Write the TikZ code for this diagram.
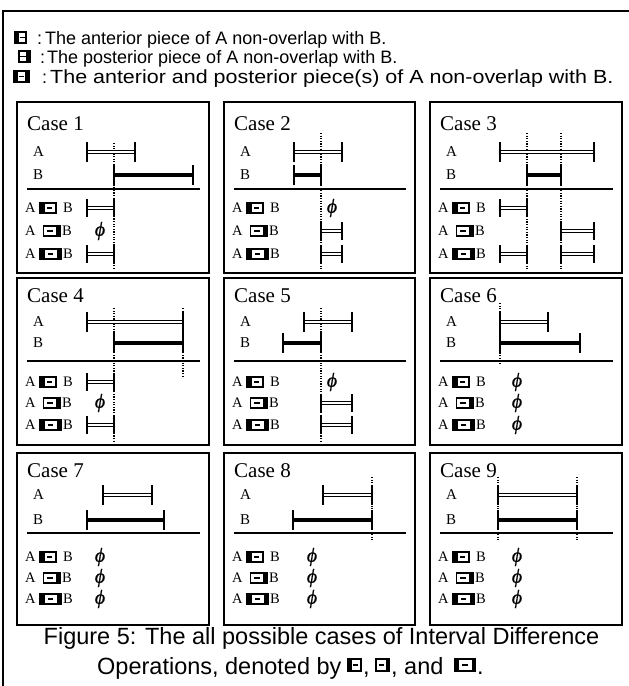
\documentclass[tikz,border=0pt]{standalone}
\usepackage{fontspec}
\setmainfont{Liberation Serif}
\newfontfamily\arialf{Liberation Sans}
\newfontfamily\arialwide[FakeStretch=1.13]{Liberation Sans}
\newfontfamily\phifont[FakeBold=0.8]{Liberation Serif}
\tikzset{
  panel/.style={draw, line width=1.8pt},
  frameline/.style={line width=1.4pt},
  sepline/.style={line width=1.4pt},
  aline/.style={line width=0.8pt, double, double distance=2.4pt},
  bline/.style={line width=4.5pt},
  tickline/.style={line width=1.6pt},
  vdots/.style={line width=1.2pt, dash pattern=on 1.2pt off 1.4pt},
  casetxt/.style={font=\fontsize{21}{21}\selectfont, inner sep=0pt, anchor=base west},
  ltr/.style={font=\fontsize{15}{15}\selectfont, inner sep=0pt, anchor=west},
  rtr/.style={font=\fontsize{14.5}{14.5}\selectfont, inner sep=0pt, anchor=west},
  phit/.style={font=\phifont\fontsize{20}{20}\selectfont\itshape, inner sep=0pt},
  legtxt/.style={font=\arialf\fontsize{18}{18}\selectfont, inner sep=0pt, anchor=base west},
  captxt/.style={font=\arialf\fontsize{23.5}{23.5}\selectfont, inner sep=0pt, anchor=base west},
  pics/opicon/.style n args={4}{code={
    \fill[black] (0,{-#2/2}) rectangle (#1,{#2/2});
    \fill[white] (#3,{-#2/2+1.8}) rectangle ({#1-#4},{#2/2-1.8});
    \draw[line width=1.5pt] ({(#3+#1-#4)/2-2.6},0) -- ({(#3+#1-#4)/2+2.6},0);
  }}
}
\newcommand\ivA[3]{%
  \draw[aline] (#1,#3) -- (#2,#3);
  \draw[tickline] (#1,{#3-10}) -- (#1,{#3+10});
  \draw[tickline] (#2,{#3-10}) -- (#2,{#3+10});}
\newcommand\ivB[3]{%
  \draw[bline] (#1,#3) -- (#2,#3);
  \draw[tickline] (#1,{#3-10}) -- (#1,{#3+10});
  \draw[tickline] (#2,{#3-10}) -- (#2,{#3+10});}
\newcommand\ivR[3]{%
  \draw[aline] (#1,#3) -- (#2,#3);
  \draw[tickline] (#1,{#3-9}) -- (#1,{#3+9});
  \draw[tickline] (#2,{#3-9}) -- (#2,{#3+9});}
\newcommand\dotv[3]{\draw[vdots] (#1,#2) -- (#1,#3);}
\newcommand\phiat[3]{\node[phit] (#1) at (#2,#3) {ϕ};}
\newcommand\setrow[7]{\def\yC{#1}\def\yA{#2}\def\yB{#3}\def\yS{#4}\def\yRa{#5}\def\yRb{#6}\def\yRc{#7}}
\newcommand\panelbox[5]{%
  \draw[panel] (#2,#3) rectangle (#4,#5);
  \node[casetxt] (case#1) at ({#2+10},\yC) {Case #1};
  \node[ltr] (A#1) at ({#2+16},\yA) {A};
  \node[ltr] (B#1) at ({#2+16},\yB) {B};
  \draw[sepline] ({#2+10},\yS) -- ({#4-9},\yS);
  \node[rtr] (ra#1) at ({#2+8},\yRa) {A};
  \pic at ({#2+22},\yRa) {opicon={18}{12}{5.5}{1.8}};
  \node[rtr] (rb#1) at ({#2+46},\yRa) {B};
  \node[rtr] (pa#1) at ({#2+8},\yRb) {A};
  \pic at ({#2+25.5},\yRb) {opicon={18.5}{12}{1.8}{5.5}};
  \node[rtr] (pb#1) at ({#2+45},\yRb) {B};
  \node[rtr] (ba#1) at ({#2+8},\yRc) {A};
  \pic at ({#2+22},\yRc) {opicon={23}{12}{5.5}{5.5}};
  \node[rtr] (bb#1) at ({#2+46},\yRc) {B};
}
\begin{document}
\begin{tikzpicture}[x=1pt,y=-1pt]
\useasboundingbox (0,0) rectangle (629,686);
\draw[frameline] (3,686) -- (3,11) -- (629,11);
% legend
\pic at (14,37.5) {opicon={13}{13}{5}{1.8}};
\node[legtxt] (lc1) at (37,44) {:};
\node[legtxt] (lt1) at (45,44) {The anterior piece of A non-overlap with B.};
\pic at (18,56.5) {opicon={13}{13}{1.8}{5}};
\node[legtxt] (lc2) at (40,63) {:};
\node[legtxt] (lt2) at (47,63) {The posterior piece of A non-overlap with B.};
\pic at (13,76.5) {opicon={17}{13}{5}{5}};
\node[legtxt] (lc3) at (42,83) {:};
\node[legtxt, font=\arialwide\fontsize{19}{19}\selectfont] (lt3) at (50,83) {The anterior and posterior piece(s) of A non-overlap with B.};
% row 1
\setrow{130}{152}{175}{189}{208}{231}{254}
\panelbox{1}{17}{102}{209}{273}
\panelbox{2}{224}{102}{415}{273}
\panelbox{3}{430}{102}{622}{273}
\dotv{114}{143}{270}
\ivA{87}{135}{152}\ivB{114}{193}{175}
\ivR{87}{114}{208}\phiat{phi1}{100}{231}\ivR{87}{114}{254}
\dotv{321}{133}{270}
\ivA{294}{342}{152}\ivB{294}{321}{175}
\phiat{phi2}{332}{208}\ivR{321}{342}{231}\ivR{321}{342}{254}
\dotv{527}{133}{270}\dotv{561}{133}{270}
\ivA{500}{594}{152}\ivB{527}{561}{175}
\ivR{500}{527}{208}\ivR{561}{594}{231}\ivR{500}{527}{254}\ivR{561}{594}{254}
% row 2
\setrow{302}{322}{343}{361}{382}{403}{425}
\panelbox{4}{17}{278}{209}{445}
\panelbox{5}{224}{278}{415}{445}
\panelbox{6}{430}{278}{622}{445}
\dotv{114}{308}{442}\dotv{183}{308}{378}
\ivA{87}{183}{322}\ivB{114}{183}{343}
\ivR{87}{114}{382}\phiat{phi4}{100}{403}\ivR{87}{114}{425}
\dotv{321}{308}{442}
\ivA{304}{352}{322}\ivB{283}{321}{343}
\phiat{phi5}{332}{382}\ivR{321}{352}{403}\ivR{321}{352}{425}
\dotv{500}{303}{365}
\ivA{500}{548}{322}\ivB{500}{580}{343}
\phiat{phi6a}{517}{382}\phiat{phi6b}{517}{403}\phiat{phi6c}{517}{425}
% row 3
\setrow{477}{495}{520}{533}{557}{578}{599}
\panelbox{7}{17}{453}{209}{625}
\panelbox{8}{224}{453}{415}{625}
\panelbox{9}{430}{453}{622}{625}
\ivA{103}{152}{495}\ivB{87}{164}{520}
\phiat{phi7a}{100}{557}\phiat{phi7b}{100}{578}\phiat{phi7c}{100}{599}
\dotv{372}{477}{540}
\ivA{323}{372}{495}\ivB{293}{372}{520}
\phiat{phi8a}{312}{557}\phiat{phi8b}{312}{578}\phiat{phi8c}{312}{599}
\dotv{498}{477}{540}\dotv{577}{477}{540}
\ivA{498}{577}{495}\ivB{498}{577}{520}
\phiat{phi9a}{517}{557}\phiat{phi9b}{517}{578}\phiat{phi9c}{517}{599}
% caption
\node[captxt, anchor=base] (cap1) at (321.5,644) {Figure 5: The all possible cases of Interval Difference};
\node[captxt] (cap2a) at (97,674) {Operations, denoted by};
\pic at (347,665) {opicon={15}{14}{4.5}{1.8}};
\node[captxt] (cap2b) at (363,674) {,};
\pic at (375,665) {opicon={15}{14}{1.8}{4.5}};
\node[captxt] (cap2c) at (391,674) {, and};
\pic at (454,665) {opicon={22}{14}{4.5}{4.5}};
\node[captxt] (cap2e) at (477,674) {.};
\end{tikzpicture}
\end{document}
